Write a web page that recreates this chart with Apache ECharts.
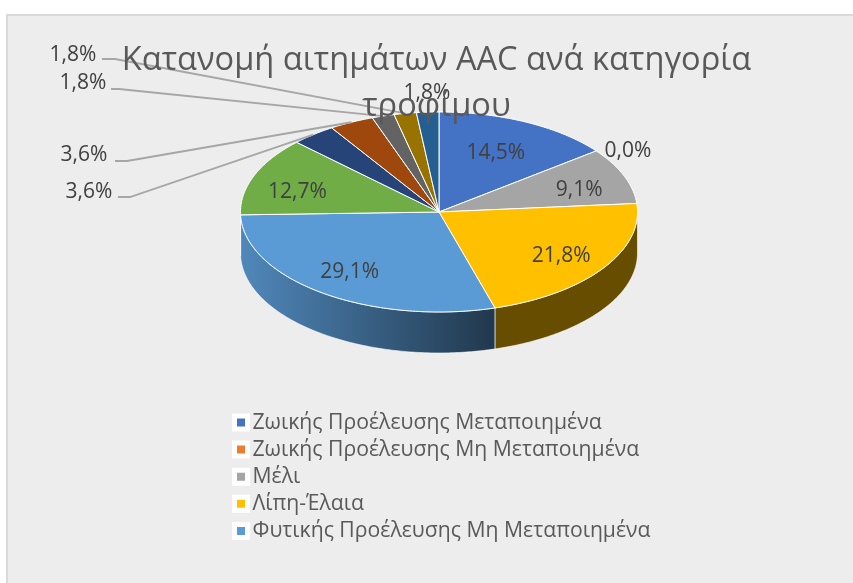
<!DOCTYPE html>
<html><head><meta charset="utf-8">
<style>html,body{margin:0;padding:0;background:#fff}#c{width:853px;height:583px}</style>
<script src="https://cdn.jsdelivr.net/npm/echarts@6/dist/echarts.min.js"></script>
</head><body><div id="c"></div>
<script>
const categories = ['Ζωικής Προέλευσης Μεταποιημένα','Ζωικής Προέλευσης Μη Μεταποιημένα','Μέλι','Λίπη-Έλαια','Φυτικής Προέλευσης Μη Μεταποιημένα','Κατηγορία 6','Κατηγορία 7','Κατηγορία 8','Κατηγορία 9','Κατηγορία 10','Κατηγορία 11'];
const values = [8,0,5,12,16,7,2,2,1,1,1];
const colors = ['#4472C4','#ED7D31','#A5A5A5','#FFC000','#5B9BD5','#70AD47','#264478','#9E480E','#636363','#997300','#255E91'];
const legendCount = 5;
const titleText = 'Κατανομή αιτημάτων AAC ανά κατηγορία\nτροφίμου';

const CX = 439, CY = 212, RX = 198.5, RY = 100, DEPTH = 41;
const total = values.reduce((a,b)=>a+b,0);
const startOf = i => values.slice(0,i).reduce((a,b)=>a+b,0)/total*Math.PI*2;
const pt = (a,r=1,dy=0) => [CX+RX*r*Math.sin(a), CY-RY*r*Math.cos(a)+dy];
const arc = (a0,a1,dy=0) => { const n=Math.max(2,Math.ceil((a1-a0)/0.015)), o=[];
  for(let k=0;k<=n;k++) o.push(pt(a0+(a1-a0)*k/n,1,dy)); return o; };
const shade = (hex,f) => { const n=parseInt(hex.slice(1),16);
  return 'rgb('+[(n>>16)&255,(n>>8)&255,n&255].map(v=>Math.round(v*f)).join(',')+')'; };
// label placement: inside = radial fraction and nudge; outside = text centre and leader elbow
const inside = {0:[.66,-1,0],2:[.72,7,4],3:[.74,1,2],4:[.74,-3,0],5:[.76,-1,8]};
const outside = {1:{c:[628,151]},6:{c:[89,192],e:[118,197,130,197]},7:{c:[84,155],e:[115,161,127,161]},
  8:{c:[83,83],e:[111,89,119,89]},9:{c:[73,55],e:[102,59,115,59]},10:{c:[427,93]}};
const fmt = i => (values[i]/total*100).toFixed(1).replace('.',',')+'%';
const labelStyle = {fontFamily:'Open Sans',fontSize:21,fill:'#404040',align:'center',verticalAlign:'middle'};

function renderSlice(params, api){
  const i = params.seriesIndex, v = api.value(0);
  const a0 = startOf(i), a1 = a0 + v/total*Math.PI*2, mid=(a0+a1)/2;
  const kids = [];
  if (v>0){
    const w0=Math.max(a0,Math.PI/2), w1=Math.min(a1,Math.PI*1.5);
    if (w1>w0){
      const top=arc(w0,w1), bot=arc(w0,w1,DEPTH).reverse();
      const fill = (i===4) ? {type:'linear',x:1,y:0,x2:0,y2:0,colorStops:[{offset:0,color:shade(colors[i],.36)},{offset:1,color:shade(colors[i],.88)}]} : shade(colors[i],.4);
      kids.push({type:'polygon',shape:{points:top.concat(bot)},style:{fill,stroke:'rgba(255,255,255,.75)',lineWidth:.8},z2:1});
    }
    kids.push({type:'polygon',shape:{points:[[CX,CY]].concat(arc(a0,a1))},style:{fill:colors[i],stroke:'#fff',lineWidth:1},z2:2});
  }
  const o = outside[i];
  if (o && o.e){
    const p=pt(mid);
    kids.push({type:'polyline',shape:{points:[[o.e[0],o.e[1]],[o.e[2],o.e[3]],p]},style:{fill:null,stroke:'#A6A6A6',lineWidth:1.8},z2:3});
  }
  const c = o ? o.c : (()=>{const [r,dx,dy]=inside[i];const p=pt(mid,r);return [p[0]+dx,p[1]+dy];})();
  kids.push({type:'text',style:Object.assign({text:fmt(i),x:c[0],y:c[1]},labelStyle),z2:4});
  return {type:'group',children:kids};
}

const chart = echarts.init(document.getElementById('c'),null,{renderer:'canvas'});
chart.setOption({
  animation:false,
  backgroundColor:'#fff',
  graphic:[{type:'rect',z:-1,silent:true,shape:{x:7,y:15,width:870,height:600},style:{fill:'#EDEDED',stroke:'#D9D9D9',lineWidth:2}}],
  title:{text:titleText,left:431.5,top:33,z:10,textAlign:'center',
    textStyle:{fontFamily:'Open Sans',fontSize:32.6,fontWeight:'normal',color:'#595959',lineHeight:46,align:'center'}},
  legend:{orient:'vertical',left:227,top:407,itemWidth:13,itemHeight:13,itemGap:6.1,selectedMode:false,
    icon:'rect',data:categories.slice(0,legendCount),
    itemStyle:{borderColor:'#fff',borderWidth:5},
    textStyle:{fontFamily:'Open Sans',fontSize:21.2,color:'#595959',lineHeight:18.5}},
  series:categories.map((name,i)=>({type:'custom',name,coordinateSystem:'none',renderItem:renderSlice,
    itemStyle:{color:colors[i]},data:[[values[i]]]}))
});
</script></body></html>
